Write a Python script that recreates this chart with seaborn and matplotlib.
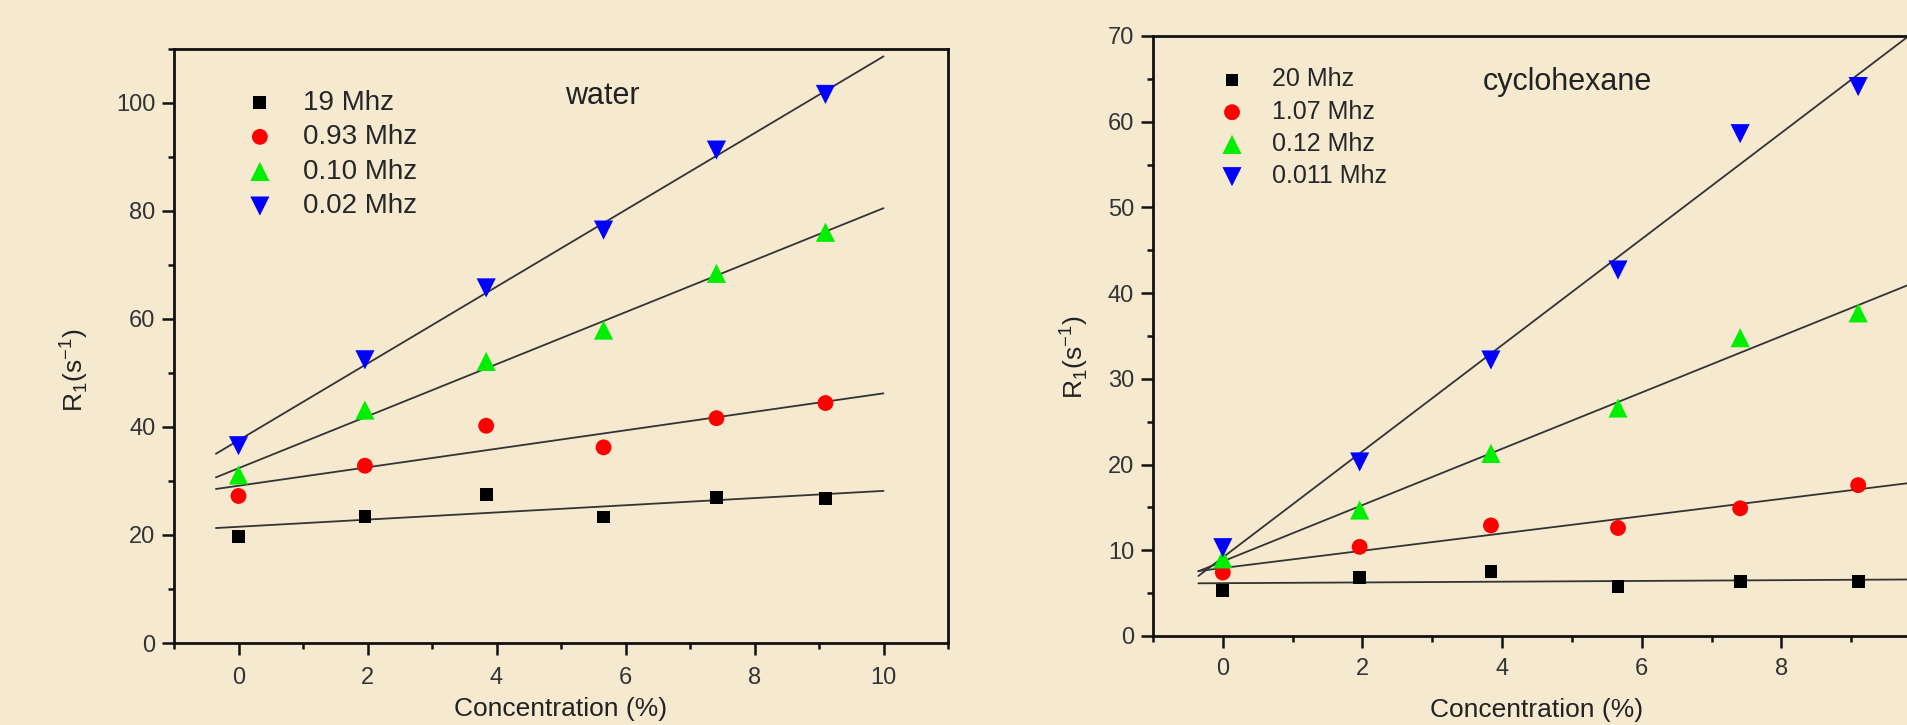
import numpy as np
import matplotlib
matplotlib.use("Agg")
import matplotlib.pyplot as plt
import seaborn as sns

# ---------------- data ----------------
conc = [0.0, 1.96, 3.84, 5.66, 7.41, 9.10]

water_labels = ["19 Mhz", "0.93 Mhz", "0.10 Mhz", "0.02 Mhz"]
water_19 = [19.7, 23.4, 27.5, 23.3, 26.9, 26.8]
water_093 = [27.2, 32.8, 40.2, 36.2, 41.6, 44.4]
water_010 = [31.1, 43.1, 52.1, 57.9, 68.4, 76.0]
water_002 = [36.5, 52.4, 65.7, 76.4, 91.2, 101.5]
water_xticks = [0, 2, 4, 6, 8, 10]

cyc_labels = ["20 Mhz", "1.07 Mhz", "0.12 Mhz", "0.011 Mhz"]
cyc_20 = [5.3, 6.8, 7.5, 5.8, 6.4, 6.4]
cyc_107 = [7.4, 10.4, 12.9, 12.6, 14.9, 17.6]
cyc_012 = [9.0, 14.7, 21.3, 26.6, 34.8, 37.7]
cyc_0011 = [10.3, 20.3, 32.2, 42.7, 58.6, 64.1]
cyc_xticks = [0, 2, 4, 6, 8]

x_label = "Concentration (%)"
y_label = r"R$_\mathregular{1}$(s$^\mathregular{-1}$)"

# ---------------- style ----------------
sns.set_theme(style="ticks")
plt.rcParams["font.family"] = ["Liberation Sans", "DejaVu Sans"]

BG = "#F5EAD0"
colors = ["#000000", "#FF0000", "#00EE00", "#0000FF"]
markers = ["s", "o", "^", "v"]
msizes = [85, 130, 190, 190]
REG = ["Liberation Sans", "DejaVu Sans"]
fit_range = np.array([-0.35, 10.0])

W, H = 1907, 725
fig = plt.figure(figsize=(W / 100, H / 100), dpi=100, facecolor=BG)


def px_axes(l, t, r, b):
    return fig.add_axes([l / W, 1 - b / H, (r - l) / W, (b - t) / H])


def draw_panel(ax, series, labels, xticks, xlim, ylim, ymajor, yminor, title,
               title_xy, title_size, leg_anchor, leg_size, leg_spacing,
               leg_pad, ylab_xy, xlab_y, xpad):
    ax.set_facecolor(BG)
    for ys, lab, c, m, s in zip(series, labels, colors, markers, msizes):
        sns.scatterplot(x=conc, y=ys, ax=ax, color=c, marker=m, s=s,
                        edgecolor="none", linewidth=0, label=lab, zorder=3)
        k, b0 = np.polyfit(conc, ys, 1)
        ax.plot(fit_range, k * fit_range + b0, color="#333333", lw=1.3,
                zorder=2)
    ax.set_xticks(xticks)
    ax.set_xticks(np.arange(-1, xlim[1] + 0.1, 1), minor=True)
    ax.set_yticks(np.arange(0, ylim[1] + 0.1, ymajor))
    ax.set_yticks(np.arange(0, ylim[1] + 0.1, yminor), minor=True)
    ax.set_xlim(*xlim)
    ax.set_ylim(*ylim)
    for sp in ax.spines.values():
        sp.set_linewidth(2.0)
        sp.set_color("#111111")
    ax.tick_params(which="major", direction="out", length=8.5, width=1.8,
                   color="#111111", labelsize=17, labelcolor="#333333")
    ax.tick_params(which="minor", direction="out", length=4.5, width=1.8,
                   color="#111111")
    ax.tick_params(axis="x", pad=xpad)
    ax.tick_params(axis="y", pad=5)
    ax.set_xlabel(x_label, fontsize=19, family=REG, color="#222222")
    ax.set_ylabel(y_label, fontsize=19, family=REG, color="#222222")
    ax.xaxis.set_label_coords(0.5, xlab_y)
    ax.yaxis.set_label_coords(*ylab_xy)
    ax.text(title_xy[0], title_xy[1], title, fontsize=title_size, family=REG,
            ha="center", va="center", color="#222222")
    ax.legend(loc="upper left", bbox_to_anchor=leg_anchor, frameon=False,
              borderpad=0, borderaxespad=0,
              handlelength=1.0, handletextpad=leg_pad,
              labelspacing=leg_spacing, scatterpoints=1,
              prop={"family": REG, "size": leg_size})


ax1 = px_axes(174, 48.5, 948, 643)
draw_panel(ax1, [water_19, water_093, water_010, water_002], water_labels,
           water_xticks, (-1, 11), (0, 110), 20, 10, "water", (5.64, 101.3),
           22, (0.093, 0.931), 20, 0.31, 1.07, (-0.108, 0.459), -0.09, 9)

ax2 = px_axes(1153, 36, 1921, 636)
draw_panel(ax2, [cyc_20, cyc_107, cyc_012, cyc_0011], cyc_labels,
           cyc_xticks, (-1, 10), (0, 70), 10, 5, "cyclohexane", (4.93, 64.6),
           22, (0.0866, 0.9475), 18, 0.33, 1.1, (-0.082, 0.465), -0.103, 7)

fig.savefig("out.png", dpi=100, facecolor=BG)
